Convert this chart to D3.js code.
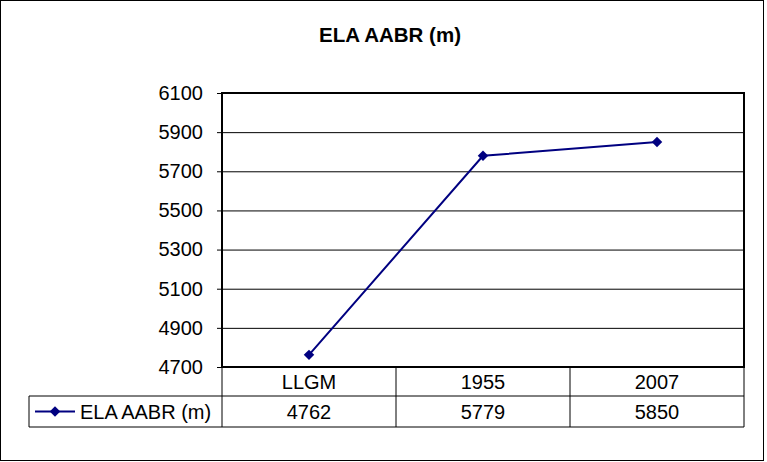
<!DOCTYPE html>
<html>
<head>
<meta charset="utf-8">
<script src="https://cdn.jsdelivr.net/npm/d3@7"></script>
<style>
  body { margin: 0; background: #fff; }
  text { font-family: "Liberation Sans", Arial, sans-serif; fill: #000; }
</style>
</head>
<body>
<div id="chart"></div>
<script>
// chart data
const categories = ["LLGM", "1955", "2007"];
const elaValues = [4762, 5779, 5850];
const yTicks = [4700, 4900, 5100, 5300, 5500, 5700, 5900, 6100];
const seriesName = "ELA AABR (m)";
const chartTitle = "ELA AABR (m)";

const W = 767, H = 462;
const plot = { left: 222, right: 744, top: 93, bottom: 367 };
const fontSize = "20px";

const svg = d3.select("#chart")
    .append("svg")
    .attr("width", W)
    .attr("height", H);

// outer chart border
svg.append("rect")
    .attr("x", 0.5).attr("y", 0.5)
    .attr("width", 763).attr("height", 460)
    .attr("fill", "#fff")
    .attr("stroke", "#000")
    .attr("stroke-width", 1);

svg.append("text")
    .attr("x", 390).attr("y", 42)
    .attr("text-anchor", "middle")
    .attr("font-size", "20.5px")
    .attr("font-weight", "bold")
    .text(chartTitle);

const x = d3.scaleBand()
    .domain(categories)
    .range([plot.left, plot.right])
    .padding(0);

const y = d3.scaleLinear()
    .domain([4700, 6100])
    .range([plot.bottom, plot.top]);

// gridlines
svg.append("g")
    .attr("transform", `translate(${plot.left},0)`)
    .call(d3.axisLeft(y).tickValues(yTicks).tickSize(-(plot.right - plot.left)).tickFormat(""))
    .call(g => g.select(".domain").remove())
    .call(g => g.selectAll("line").attr("stroke", "#000").attr("stroke-width", 1));

// y axis with tick labels
svg.append("g")
    .attr("transform", `translate(${plot.left},0)`)
    .call(d3.axisLeft(y).tickValues(yTicks).tickSize(5).tickPadding(14).tickFormat(d3.format("d")))
    .call(g => g.select(".domain").remove())
    .call(g => g.selectAll("line").attr("stroke", "#000"))
    .call(g => g.selectAll("text").attr("font-size", fontSize).attr("font-family", "Liberation Sans, Arial, sans-serif").attr("fill", "#000"));

// plot border
svg.append("rect")
    .attr("x", plot.left).attr("y", plot.top)
    .attr("width", plot.right - plot.left)
    .attr("height", plot.bottom - plot.top)
    .attr("fill", "none")
    .attr("stroke", "#000")
    .attr("stroke-width", 2);

// series line
const pts = categories.map((c, i) => [x(c) + x.bandwidth() / 2, y(elaValues[i])]);
svg.append("path")
    .datum(pts)
    .attr("fill", "none")
    .attr("stroke", "#000080")
    .attr("stroke-width", 2)
    .attr("d", d3.line());

const diamond = d3.symbol().type(d3.symbolDiamond2).size(70);
svg.selectAll(".marker")
    .data(pts)
    .enter().append("path")
    .attr("class", "marker")
    .attr("transform", d => `translate(${d[0]},${d[1]})`)
    .attr("d", diamond)
    .attr("fill", "#000080");

// data table
const tbl = svg.append("g");
const row1 = plot.bottom, row2 = plot.bottom + 29, row3 = plot.bottom + 60;
const line = (x1, y1, x2, y2) => tbl.append("line")
    .attr("x1", x1).attr("y1", y1).attr("x2", x2).attr("y2", y2)
    .attr("stroke", "#000").attr("stroke-width", 1);

line(29, row2, plot.right, row2);
line(29, row3, plot.right, row3);
line(29, row2, 29, row3);
categories.forEach(c => line(x(c) + x.bandwidth(), row1, x(c) + x.bandwidth(), row3));
line(plot.left, row1, plot.left, row3);

tbl.selectAll(".cat")
    .data(categories)
    .enter().append("text")
    .attr("x", d => x(d) + x.bandwidth() / 2)
    .attr("y", row1 + 22)
    .attr("text-anchor", "middle")
    .attr("font-size", fontSize)
    .text(d => d);

tbl.selectAll(".val")
    .data(elaValues)
    .enter().append("text")
    .attr("x", (d, i) => x(categories[i]) + x.bandwidth() / 2)
    .attr("y", row2 + 23)
    .attr("text-anchor", "middle")
    .attr("font-size", fontSize)
    .text(d => d);

// legend key inside the table
const ly = (row2 + row3) / 2;
tbl.append("line")
    .attr("x1", 35).attr("y1", ly).attr("x2", 75).attr("y2", ly)
    .attr("stroke", "#000080").attr("stroke-width", 2);
tbl.append("path")
    .attr("transform", `translate(55,${ly})`)
    .attr("d", diamond)
    .attr("fill", "#000080");
tbl.append("text")
    .attr("x", 80).attr("y", row2 + 23)
    .attr("font-size", fontSize)
    .text(seriesName);
</script>
</body>
</html>
